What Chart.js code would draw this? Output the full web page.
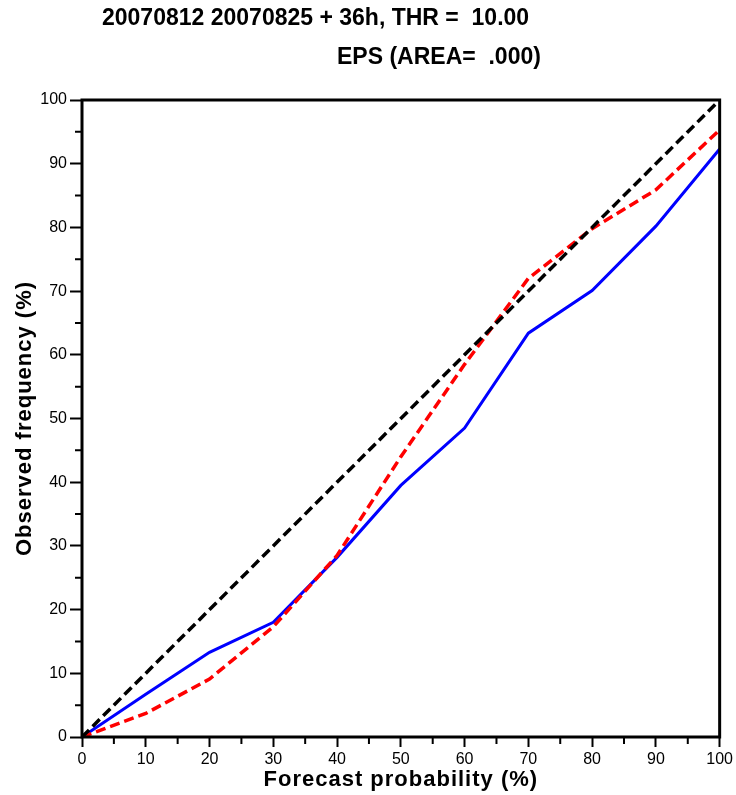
<!DOCTYPE html>
<html>
<head>
<meta charset="utf-8">
<script src="https://cdn.jsdelivr.net/npm/chart.js@4/dist/chart.umd.min.js"></script>
<style>
html,body{margin:0;padding:0;background:#fff;}
#wrap{position:relative;width:736px;height:795px;}
</style>
</head>
<body>
<div id="wrap"><canvas id="c" width="736" height="795"></canvas></div>
<script>
const forecastProb = [0, 10, 20, 30, 40, 50, 60, 70, 80, 90, 100];
const blueObserved = [0, 6.7, 13.3, 18.0, 28.2, 39.5, 48.5, 63.4, 70.1, 80.2, 92.3];
const redObserved  = [0, 3.7, 9.1, 17.3, 28.5, 44.0, 58.5, 72.0, 79.8, 85.9, 95.3];
const diagX = [0, 100];
const diagY = [0, 100];
const majorTicks = [0, 10, 20, 30, 40, 50, 60, 70, 80, 90, 100];
const minorTicks = [5, 15, 25, 35, 45, 55, 65, 75, 85, 95];
const titleLine1 = "20070812 20070825 + 36h, THR =  10.00";
const titleLine2 = "EPS (AREA=  .000)";
const xTitle = "Forecast probability (%)";
const yTitle = "Observed frequency (%)";

const pts = (xs, ys) => xs.map((x, i) => ({x: x, y: ys[i]}));

const FONT = "'Liberation Sans', Arial, Helvetica, sans-serif";

const framePlugin = {
  id: 'frame',
  afterDraw(chart) {
    const ctx = chart.ctx;
    const a = chart.chartArea;
    const xs = chart.scales.x, ys = chart.scales.y;
    ctx.save();
    // minor ticks
    ctx.strokeStyle = '#000';
    ctx.lineWidth = 2;
    ctx.beginPath();
    minorTicks.forEach(v => {
      const px = xs.getPixelForValue(v);
      ctx.moveTo(px, a.bottom); ctx.lineTo(px, a.bottom + 7);
      const py = ys.getPixelForValue(v);
      ctx.moveTo(a.left, py); ctx.lineTo(a.left - 7, py);
    });
    ctx.stroke();
    // frame
    ctx.lineWidth = 3;
    ctx.strokeRect(a.left, a.top, a.right - a.left, a.bottom - a.top);
    // titles
    ctx.fillStyle = '#000';
    ctx.font = "bold 23px " + FONT;
    ctx.textBaseline = 'middle';
    ctx.textAlign = 'left';
    ctx.fillText(titleLine1, 102, 19);
    ctx.fillText(titleLine2, 337, 58);
    // axis titles
    ctx.font = "bold 22px " + FONT;
    try { ctx.letterSpacing = '1px'; } catch (e) {}
    ctx.textAlign = 'center';
    const cx = (a.left + a.right) / 2;
    const cy = (a.top + a.bottom) / 2;
    ctx.fillText(xTitle, cx, 780);
    ctx.translate(25, cy);
    ctx.rotate(-Math.PI / 2);
    ctx.fillText(yTitle, 0, 0);
    ctx.restore();
  }
};

new Chart(document.getElementById('c'), {
  type: 'line',
  data: {
    datasets: [
      {
        data: pts(diagX, diagY),
        borderColor: '#000',
        borderWidth: 3.5,
        borderDash: [10, 5],
        pointRadius: 0,
        tension: 0
      },
      {
        data: pts(forecastProb, redObserved),
        borderColor: '#ff0000',
        borderWidth: 3.5,
        borderDash: [10, 5],
        pointRadius: 0,
        tension: 0
      },
      {
        data: pts(forecastProb, blueObserved),
        borderColor: '#0000ff',
        borderWidth: 3,
        pointRadius: 0,
        tension: 0
      }
    ]
  },
  options: {
    responsive: false,
    animation: false,
    devicePixelRatio: 1,
    layout: { padding: { left: 0, top: 100, right: 16, bottom: 0 } },
    plugins: { legend: { display: false }, tooltip: { enabled: false }, title: { display: false } },
    scales: {
      x: {
        type: 'linear',
        min: 0, max: 100,
        afterFit(s) { s.height = 58; },
        afterBuildTicks(s) { s.ticks = majorTicks.map(v => ({value: v})); },
        border: { display: false },
        grid: { drawOnChartArea: false, drawTicks: true, tickLength: 10, tickWidth: 2, tickColor: '#000' },
        ticks: { color: '#000', font: { family: FONT, size: 16 }, padding: 3, maxRotation: 0, autoSkip: false },
        title: { display: false }
      },
      y: {
        type: 'linear',
        min: 0, max: 100,
        afterFit(s) { s.width = 82; },
        afterBuildTicks(s) { s.ticks = majorTicks.map(v => ({value: v})); },
        border: { display: false },
        grid: { drawOnChartArea: false, drawTicks: true, tickLength: 12, tickWidth: 2, tickColor: '#000' },
        ticks: { color: '#000', font: { family: FONT, size: 16 }, padding: 3, autoSkip: false },
        title: { display: false }
      }
    }
  },
  plugins: [framePlugin]
});
</script>
</body>
</html>
